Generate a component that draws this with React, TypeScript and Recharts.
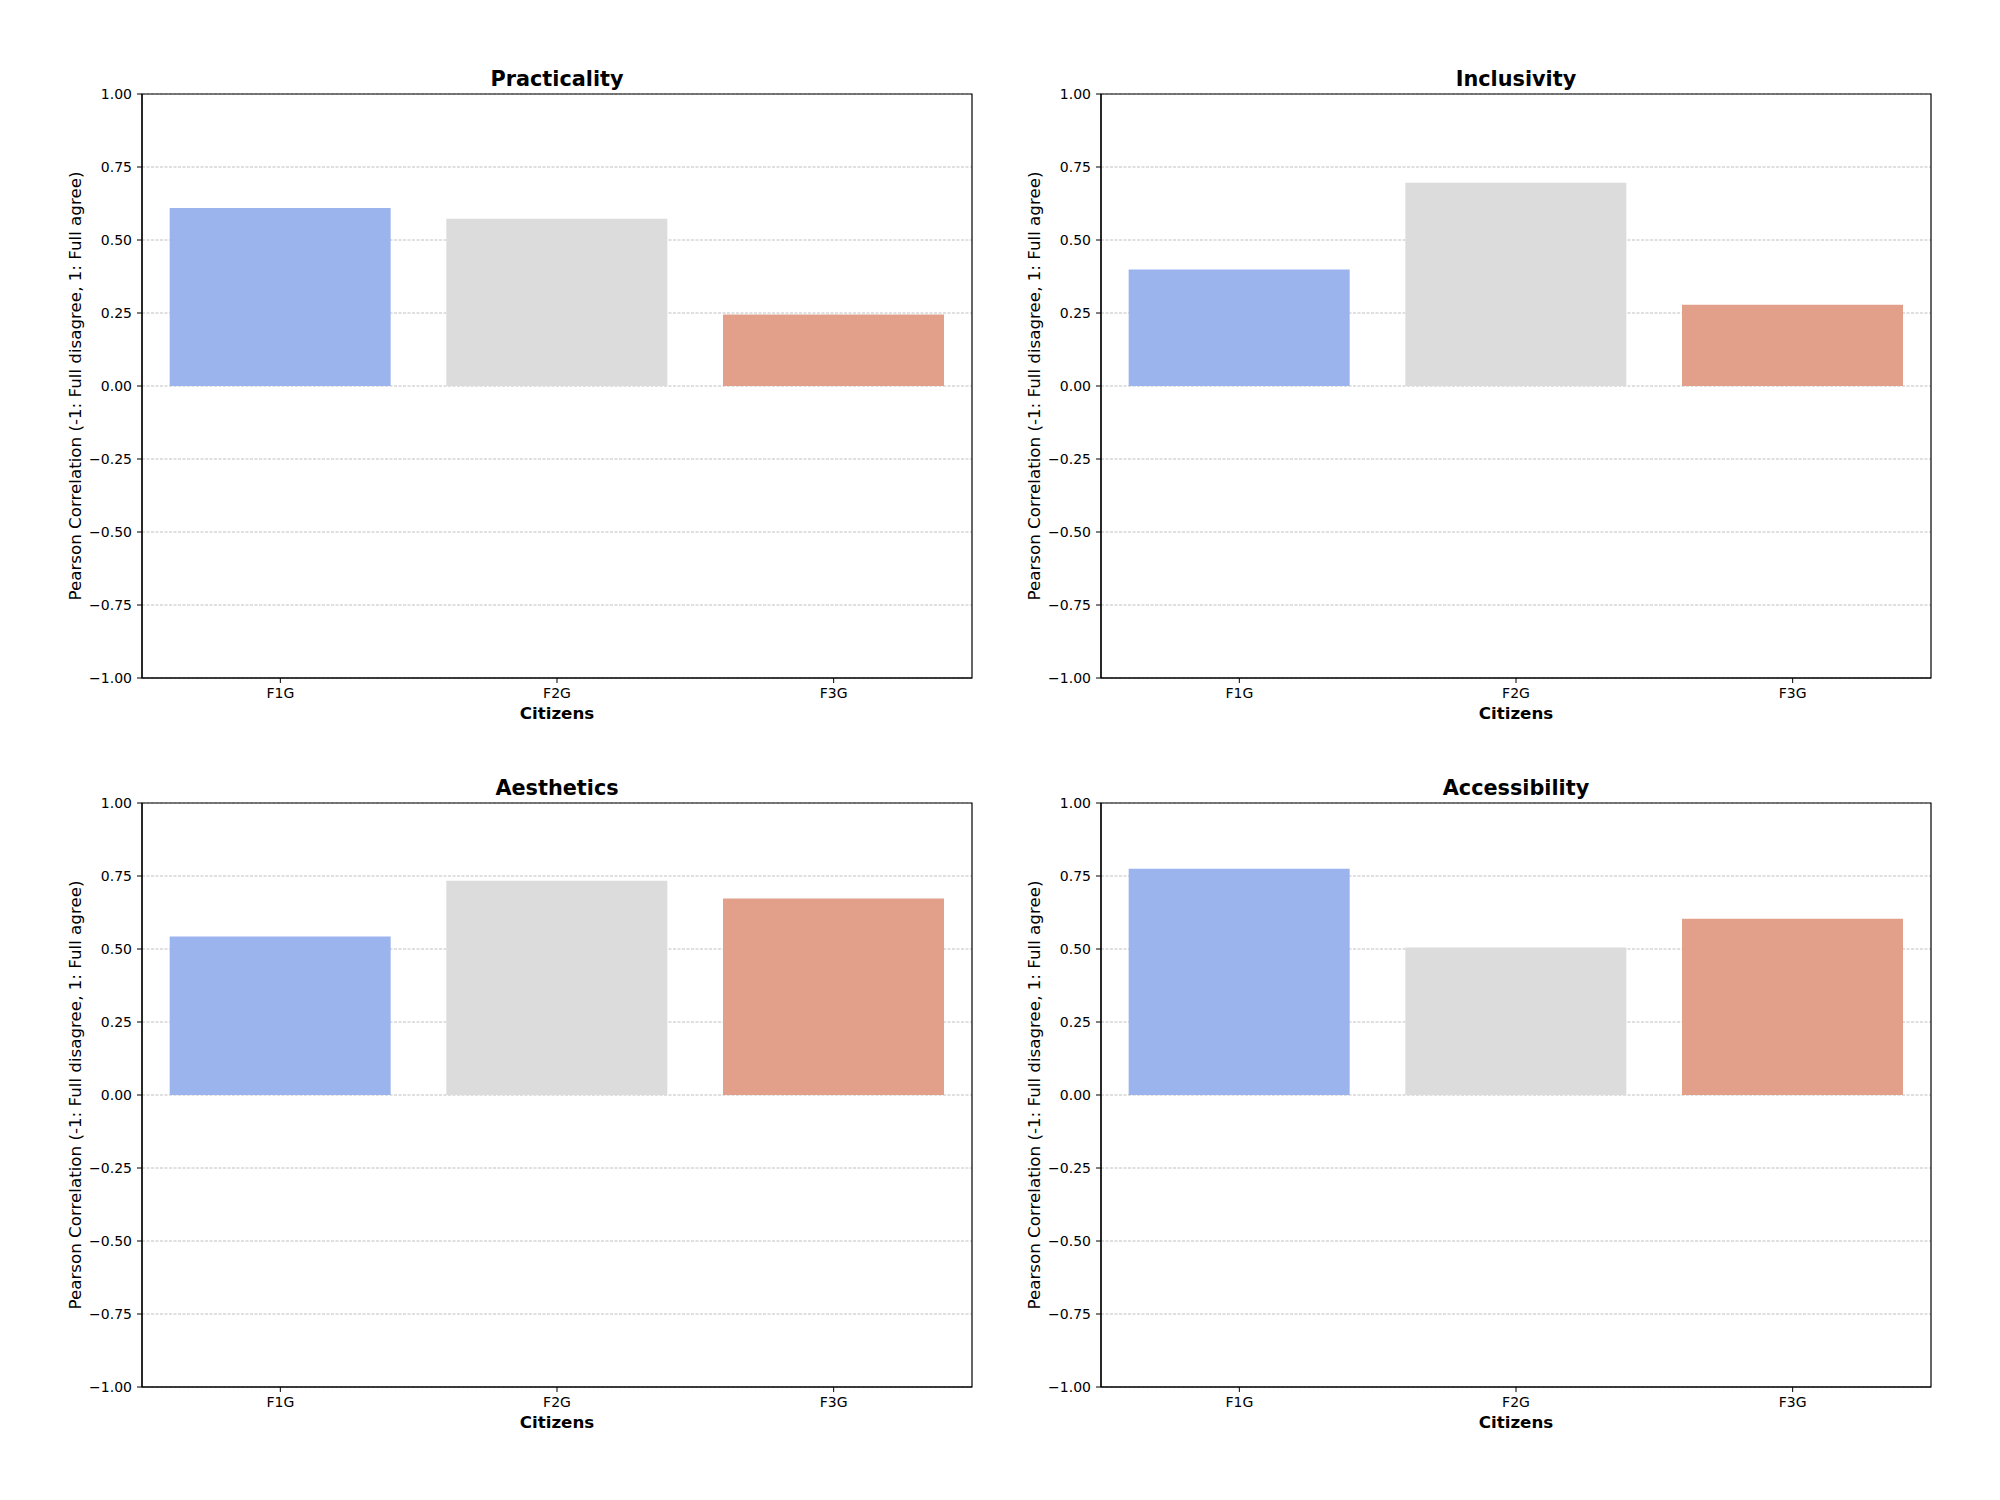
import React from "react";
import { BarChart, Bar, XAxis, YAxis, CartesianGrid, Cell, ReferenceArea, Label } from "recharts";

const categories = ["F1G", "F2G", "F3G"];
const colors = ["#9bb4ee", "#dcdcdc", "#e2a08a"];
const yTicks = [-1, -0.75, -0.5, -0.25, 0, 0.25, 0.5, 0.75, 1];

const practicality = [0.61, 0.573, 0.245];
const inclusivity = [0.399, 0.696, 0.278];
const aesthetics = [0.543, 0.734, 0.673];
const accessibility = [0.775, 0.505, 0.604];

const panels = [
  { title: "Practicality", values: practicality, left: 0, top: 0 },
  { title: "Inclusivity", values: inclusivity, left: 959, top: 0 },
  { title: "Aesthetics", values: aesthetics, left: 0, top: 709 },
  { title: "Accessibility", values: accessibility, left: 959, top: 709 },
];

const FONT = "DejaVu Sans";

const fmt = (v: number) => (v < 0 ? "\u2212" : "") + Math.abs(v).toFixed(2);

function Panel({ title, values }: { title: string; values: number[] }) {
  const data = categories.map((c, i) => ({ name: c, value: values[i] }));
  return (
    <BarChart
      width={1000}
      height={750}
      data={data}
      margin={{ top: 94, right: 28, bottom: 31, left: 8 }}
      barCategoryGap="10%"
      style={{ fontFamily: FONT }}
    >
      <CartesianGrid
        horizontal={true}
        vertical={false}
        stroke="#b0b0b0"
        strokeDasharray="3 1.5"
        strokeWidth={0.8}
      />
      <XAxis
        dataKey="name"
        type="category"
        height={41}
        tickSize={5}
        tickMargin={5}
        axisLine={{ stroke: "#000", strokeWidth: 1.2 }}
        tickLine={{ stroke: "#000" }}
        tick={{ fill: "#000", fontSize: 14, fontFamily: FONT }}
        interval={0}
      >
        <Label
          value="Citizens"
          position="insideBottom"
          offset={0}
          style={{ fontSize: 16.7, fontWeight: "bold", fill: "#000", fontFamily: FONT }}
        />
      </XAxis>
      <YAxis
        type="number"
        domain={[-1, 1]}
        ticks={yTicks}
        width={134}
        tickSize={5}
        tickMargin={5}
        tickFormatter={fmt}
        axisLine={{ stroke: "#000", strokeWidth: 1.2 }}
        tickLine={{ stroke: "#000" }}
        tick={{ fill: "#000", fontSize: 14, fontFamily: FONT }}
        allowDataOverflow={true}
      >
        <Label
          value="Pearson Correlation (-1: Full disagree, 1: Full agree)"
          position="center"
          angle={-90}
          style={{ fontSize: 16.7, fill: "#000", fontFamily: FONT, textAnchor: "middle" }}
        />
      </YAxis>
      <Bar dataKey="value" isAnimationActive={false}>
        {data.map((d, i) => (
          <Cell key={d.name} fill={colors[i]} />
        ))}
      </Bar>
      <ReferenceArea
        y1={-1}
        y2={1}
        fill="none"
        fillOpacity={0}
        stroke="#000"
        strokeWidth={1.2}
        ifOverflow="visible"
      >
        <Label
          value={title}
          position="top"
          offset={8}
          style={{ fontSize: 20.8, fontWeight: "bold", fill: "#000", fontFamily: FONT }}
        />
      </ReferenceArea>
    </BarChart>
  );
}

export default function App() {
  return (
    <div
      style={{
        position: "absolute",
        left: 0,
        top: 0,
        width: 2000,
        height: 1500,
        background: "#fff",
      }}
    >
      {panels.map((p) => (
        <div key={p.title} style={{ position: "absolute", left: p.left, top: p.top }}>
          <Panel title={p.title} values={p.values} />
        </div>
      ))}
    </div>
  );
}
